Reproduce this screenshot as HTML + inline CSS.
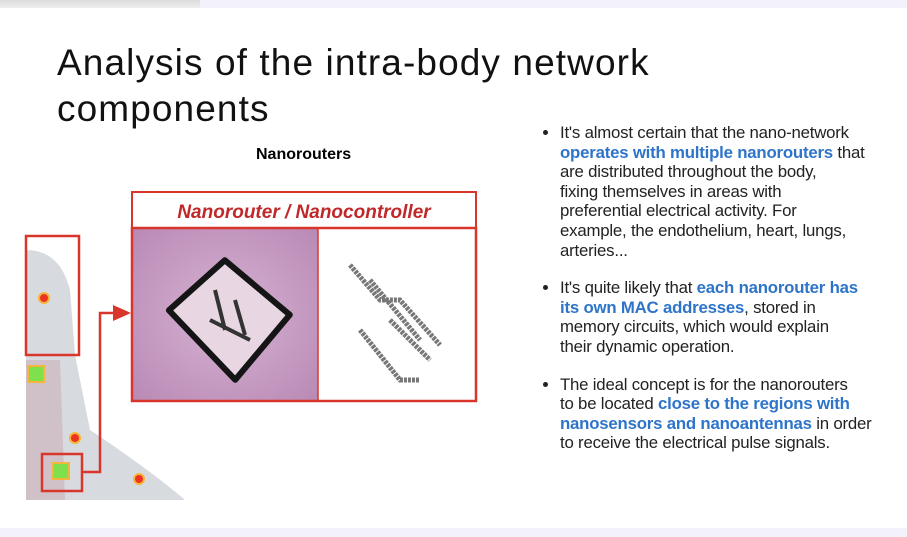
<!DOCTYPE html>
<html><head><style>
body{margin:0;width:907px;height:537px;background:#fff;position:relative;overflow:hidden;font-family:"Liberation Sans",sans-serif}
.a{position:absolute}
.t{left:57px;top:40px;font-size:37px;line-height:46px;color:#111;letter-spacing:1.1px;white-space:nowrap}
ul{position:absolute;left:540px;top:123px;width:360px;margin:0;padding:0 0 0 20px;font-size:16.8px;line-height:19.6px;color:#222;white-space:nowrap;letter-spacing:-0.2px}
li{margin-bottom:18px}
b{color:#2e74c9}
</style></head><body>
<div class="a" style="left:0;top:0;width:907px;height:8px;background:#f3f2fa"></div>
<div class="a" style="left:0;top:0;width:200px;height:8px;background:linear-gradient(#ddd,#eee)"></div>
<div class="a" style="left:0;top:528px;width:907px;height:9px;background:#f3f2fa"></div>
<div class="a t">Analysis of the intra-body network<br>components</div>
<div class="a" style="left:256px;top:146px;font-weight:bold;font-size:16px">Nanorouters</div>
<svg class="a" style="left:0;top:0" width="907" height="537">
<defs><radialGradient id="p" cx="0.5" cy="0.5" r="0.7"><stop offset="0" stop-color="#d8b3d4"/><stop offset="1" stop-color="#b889b4"/></radialGradient></defs>
<path d="M26 250 Q60 250 70 290 L75 355 L90 430 Q150 470 185 500 L26 500 Z" fill="#d7dbe0"/>
<path d="M26 360 L60 360 L65 500 L26 500Z" fill="#c9a8b0" opacity=".5"/>
<rect x="26" y="236" width="53" height="119" fill="none" stroke="#d9362b" stroke-width="2.5"/>
<circle cx="44" cy="298" r="5" fill="#e32" stroke="#f4b63a" stroke-width="2"/>
<rect x="28" y="366" width="16" height="16" fill="#7fe04d" stroke="#f4b63a" stroke-width="2"/>
<circle cx="75" cy="438" r="5" fill="#e32" stroke="#f4b63a" stroke-width="2"/>
<circle cx="139" cy="479" r="5" fill="#e32" stroke="#f4b63a" stroke-width="2"/>
<rect x="42" y="454" width="40" height="37" fill="none" stroke="#d9362b" stroke-width="2.5"/>
<rect x="53" y="463" width="16" height="16" fill="#7fe04d" stroke="#f4b63a" stroke-width="2"/>
<path d="M82 472 L100 472 L100 313 L115 313" fill="none" stroke="#d9362b" stroke-width="2.5"/>
<path d="M113 305 L131 313 L113 321Z" fill="#d9362b"/>
<rect x="132" y="192" width="344" height="36" fill="#fff" stroke="#d9362b" stroke-width="2"/>
<rect x="133" y="229" width="185" height="172" fill="url(#p)"/>
<rect x="132" y="228" width="344" height="173" fill="none" stroke="#d9362b" stroke-width="2.5"/>
<line x1="318" y1="228" x2="318" y2="401" stroke="#d9362b" stroke-width="1.5"/>
<path d="M230 260 L290 320 L230 380 L170 305Z" transform="rotate(-5 230 320)" fill="#e8d6e2" stroke="#151515" stroke-width="6" stroke-linejoin="round"/>
<path d="M215 290 L225 330 M210 320 L250 340 M235 300 L245 335" stroke="#333" stroke-width="4"/>
<path d="M350 265 L380 300 L400 300 L440 345 M370 280 L420 340 M360 330 L400 380 L420 380 M390 320 L430 360" stroke="#777" stroke-width="5" fill="none" stroke-dasharray="3 1"/>
<text x="304" y="218" text-anchor="middle" font-family="Liberation Sans" font-size="19" font-weight="bold" font-style="italic" fill="#c0282a">Nanorouter / Nanocontroller</text>
</svg>
<ul>
<li>It's almost certain that the nano-network<br><b>operates with multiple nanorouters</b> that<br>are distributed throughout the body,<br>fixing themselves in areas with<br>preferential electrical activity. For<br>example, the endothelium, heart, lungs,<br>arteries...</li>
<li>It's quite likely that <b>each nanorouter has</b><br><b>its own MAC addresses</b>, stored in<br>memory circuits, which would explain<br>their dynamic operation.</li>
<li>The ideal concept is for the nanorouters<br>to be located <b>close to the regions with</b><br><b>nanosensors and nanoantennas</b> in order<br>to receive the electrical pulse signals.</li>
</ul>
</body></html>
